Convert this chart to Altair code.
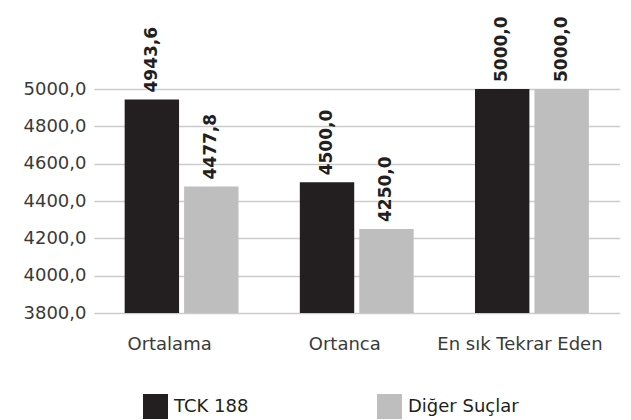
import altair as alt
import pandas as pd

categories = ["Ortalama", "Ortanca", "En sık Tekrar Eden"]
series = ["TCK 188", "Diğer Suçlar"]
tck188 = [4943.6, 4500.0, 5000.0]
diger = [4477.8, 4250.0, 5000.0]
y_ticks = [3800, 4000, 4200, 4400, 4600, 4800, 5000]
colors = ["#231f20", "#bebebf"]

rows = []
for i, c in enumerate(categories):
    rows.append({"kategori": c, "seri": series[0], "deger": tck188[i]})
    rows.append({"kategori": c, "seri": series[1], "deger": diger[i]})
df = pd.DataFrame(rows)

FONT = "DejaVu Sans"

x = alt.X("kategori:N", sort=categories,
          scale=alt.Scale(range=[-11, 514.5], paddingInner=0.35, paddingOuter=0.175),
          axis=alt.Axis(title=None, labelAngle=0, ticks=False, domain=False,
                        labelFont=FONT, labelFontSize=18, labelColor="#3a3a3a",
                        labelPadding=22, labelOffset=-12))
xo = alt.XOffset("seri:N", sort=series, scale=alt.Scale(paddingInner=0.085, paddingOuter=0))
y = alt.Y("deger:Q", scale=alt.Scale(domain=[3800, 5000], zero=False, nice=False),
          axis=alt.Axis(title=None, values=y_ticks, ticks=False, domain=False,
                        labelExpr="replace(format(datum.value, '.1f'), '.', ',')",
                        labelFont=FONT, labelFontSize=18, labelColor="#3a3a3a",
                        labelPadding=19, gridColor="#cccccc", gridWidth=1.5))

color = alt.Color("seri:N", sort=series,
                  scale=alt.Scale(domain=series, range=colors),
                  legend=alt.Legend(title=None, orient="none", direction="horizontal",
                                    legendX=38, legendY=305, symbolType="square",
                                    symbolSize=625, symbolStrokeWidth=0, labelOffset=6,
                                    columnPadding=128, labelFont=FONT, labelFontSize=18,
                                    labelColor="#231f20"))

base = alt.Chart(df)
bars = base.mark_bar().encode(x=x, xOffset=xo, y=y, y2=alt.datum(3800), color=color)
labels = base.transform_calculate(
    etiket="replace(format(datum.deger, '.1f'), '.', ',')"
).mark_text(angle=270, align="left", baseline="middle", dx=7,
            font=FONT, fontSize=17, fontWeight="bold", color="#231f20").encode(
    x=x, xOffset=xo, y=y, text="etiket:N")

chart = (bars + labels).properties(
    width=508, height=224,
    autosize=alt.AutoSizeParams(type="none"),
    padding={"left": 97, "top": 81, "right": 10, "bottom": 107},
).configure_view(stroke=None)

chart.save("out.html", embed_options={"renderer": "svg", "actions": False})
